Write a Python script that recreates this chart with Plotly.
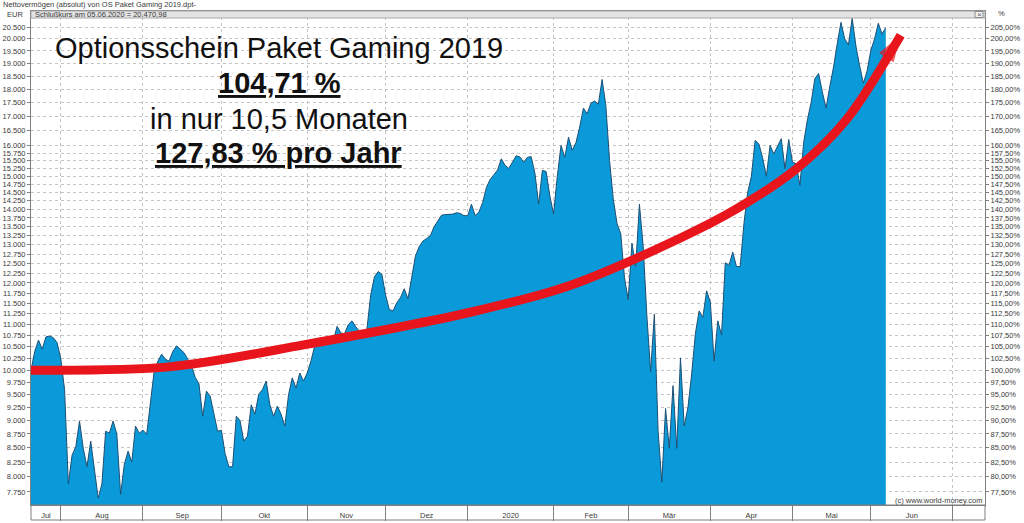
import numpy as np
import plotly.graph_objects as go

# ---------------- data ----------------
dates = [
    "2019-07-22", "2019-07-23", "2019-07-24", "2019-07-25", "2019-07-26", "2019-07-29", "2019-07-30", "2019-07-31",
    "2019-08-01", "2019-08-02", "2019-08-05", "2019-08-06", "2019-08-07", "2019-08-08", "2019-08-09", "2019-08-12",
    "2019-08-13", "2019-08-14", "2019-08-15", "2019-08-16", "2019-08-19", "2019-08-20", "2019-08-21", "2019-08-22",
    "2019-08-23", "2019-08-26", "2019-08-27", "2019-08-28", "2019-08-29", "2019-08-30",
    "2019-09-02", "2019-09-03", "2019-09-04", "2019-09-05", "2019-09-06", "2019-09-09", "2019-09-10", "2019-09-11",
    "2019-09-12", "2019-09-13", "2019-09-16", "2019-09-17", "2019-09-18", "2019-09-19", "2019-09-20", "2019-09-23",
    "2019-09-24", "2019-09-25", "2019-09-26", "2019-09-27", "2019-09-30",
    "2019-10-01", "2019-10-02", "2019-10-03", "2019-10-04", "2019-10-07", "2019-10-08", "2019-10-09", "2019-10-10",
    "2019-10-11", "2019-10-14", "2019-10-15", "2019-10-16", "2019-10-17", "2019-10-18", "2019-10-21", "2019-10-22",
    "2019-10-23", "2019-10-24", "2019-10-25", "2019-10-28", "2019-10-29", "2019-10-30", "2019-10-31",
    "2019-11-01", "2019-11-04", "2019-11-05", "2019-11-06", "2019-11-07", "2019-11-08", "2019-11-11", "2019-11-12",
    "2019-11-13", "2019-11-14", "2019-11-15", "2019-11-18", "2019-11-19", "2019-11-20", "2019-11-21", "2019-11-22",
    "2019-11-25", "2019-11-26", "2019-11-27", "2019-11-28", "2019-11-29",
    "2019-12-02", "2019-12-03", "2019-12-04", "2019-12-05", "2019-12-06", "2019-12-09", "2019-12-10", "2019-12-11",
    "2019-12-12", "2019-12-13", "2019-12-16", "2019-12-17", "2019-12-18", "2019-12-19", "2019-12-20", "2019-12-23",
    "2019-12-24", "2019-12-25", "2019-12-26", "2019-12-27", "2019-12-30", "2019-12-31",
    "2020-01-01", "2020-01-02", "2020-01-03", "2020-01-06", "2020-01-07", "2020-01-08", "2020-01-09", "2020-01-10",
    "2020-01-13", "2020-01-14", "2020-01-15", "2020-01-16", "2020-01-17", "2020-01-20", "2020-01-21", "2020-01-22",
    "2020-01-23", "2020-01-24", "2020-01-27", "2020-01-28", "2020-01-29", "2020-01-30", "2020-01-31",
    "2020-02-03", "2020-02-04", "2020-02-05", "2020-02-06", "2020-02-07", "2020-02-10", "2020-02-11", "2020-02-12",
    "2020-02-13", "2020-02-14", "2020-02-17", "2020-02-18", "2020-02-19", "2020-02-20", "2020-02-21", "2020-02-24",
    "2020-02-25", "2020-02-26", "2020-02-27", "2020-02-28",
    "2020-03-02", "2020-03-03", "2020-03-04", "2020-03-05", "2020-03-06", "2020-03-09", "2020-03-10", "2020-03-11",
    "2020-03-12", "2020-03-13", "2020-03-16", "2020-03-17", "2020-03-18", "2020-03-19", "2020-03-20", "2020-03-23",
    "2020-03-24", "2020-03-25", "2020-03-26", "2020-03-27", "2020-03-30", "2020-03-31",
    "2020-04-01", "2020-04-02", "2020-04-03", "2020-04-06", "2020-04-07", "2020-04-08", "2020-04-09", "2020-04-10",
    "2020-04-13", "2020-04-14", "2020-04-15", "2020-04-16", "2020-04-17", "2020-04-20", "2020-04-21", "2020-04-22",
    "2020-04-23", "2020-04-24", "2020-04-27", "2020-04-28", "2020-04-29", "2020-04-30",
    "2020-05-01", "2020-05-04", "2020-05-05", "2020-05-06", "2020-05-07", "2020-05-08", "2020-05-11", "2020-05-12",
    "2020-05-13", "2020-05-14", "2020-05-15", "2020-05-18", "2020-05-19", "2020-05-20", "2020-05-21", "2020-05-22",
    "2020-05-25", "2020-05-26", "2020-05-27", "2020-05-28", "2020-05-29",
    "2020-06-01", "2020-06-02", "2020-06-03", "2020-06-04", "2020-06-05",
]

nav_eur = [
    10000, 10400, 10650, 10450, 10720, 10740, 10700, 10590,
    10230, 9600, 7880, 8370, 8520, 8990, 8490, 8170,
    8620, 8090, 7650, 7880, 8800, 8765, 8990, 8745,
    7710, 8210, 8440, 8250, 8895, 8765,
    8820, 8745, 9300, 9982, 10190, 10340, 10230, 10190,
    10400, 10520, 10450, 10370, 10230, 10090, 9850, 9715,
    9080, 9570, 9470, 9100, 8800,
    8820, 8400, 8170, 8170, 9080, 9000, 8620, 8710,
    9300, 9120, 9510, 9600, 9775, 9300, 9080, 9275,
    9120, 8895, 9500, 9840, 9630, 9940, 9775,
    9940, 10190, 10520, 10570, 10570, 10570, 10570, 10640,
    10960, 10810, 10790, 11000, 11086, 10950, 10850, 10810,
    10900, 11700, 12150, 12290, 12220,
    11700, 11350, 11321, 11515, 11640, 11856, 11610, 12200,
    12700, 12950, 13100, 13170, 13250, 13500, 13650, 13830,
    13845, 13845, 13860, 13900, 13880, 13815,
    13815, 14150, 13815, 13920, 14200, 14650, 14900, 15050,
    15200, 15560, 15350, 15250, 15450, 15660, 15620, 15450,
    15610, 15630, 15100, 14150, 15190, 15150, 14400,
    13860, 15000, 16000, 15610, 16280, 15840, 16100, 16630,
    17300, 17100, 17480, 17560, 17440, 18370, 17400, 15500,
    14300, 13590, 13300, 12130,
    11590, 13040, 12420, 14150, 12970, 11200, 9970, 11240,
    8810, 7910, 9230, 8490, 9680, 8490, 10260, 8895,
    9250, 9920, 10800, 11320, 11170, 11806,
    11530, 10190, 11086, 10760, 12520, 12450, 12800, 12420,
    12420, 13590, 14500, 15000, 16170, 16050, 15600, 15000,
    16000, 15720, 16000, 16230, 15240, 16200,
    15450, 15400, 14720, 16100, 16880, 17500, 18400, 18600,
    17900, 17300, 18100, 18850, 19800, 20700, 20000, 19750,
    20880, 19700, 18900, 18230, 18700,
    19530, 20000, 20660, 20200, 20470.98,
]

# hand-drawn red trend arrow
arrow_dates = ["2019-07-22", "2019-09-11", "2019-10-31", "2020-01-02", "2020-02-07", "2020-03-20",
               "2020-04-10", "2020-05-04", "2020-05-21 14:00", "2020-06-11"]
arrow_values = [10000, 10068, 10541, 11293, 11925, 13184,
                14010, 15232, 16911, 20150]

y_tick_values = [7750, 8000, 8250, 8500, 8750, 9000, 9250, 9500, 9750, 10000, 10250, 10500, 10750,
                 11000, 11250, 11500, 11750, 12000, 12250, 12500, 12750, 13000, 13250, 13500, 13750,
                 14000, 14250, 14500, 14750, 15000, 15250, 15500, 15750, 16000, 16500, 17000, 17500,
                 18000, 18500, 19000, 19500, 20000, 20500]
y_tick_labels_eur = ["7.750", "8.000", "8.250", "8.500", "8.750", "9.000", "9.250", "9.500", "9.750",
                     "10.000", "10.250", "10.500", "10.750", "11.000", "11.250", "11.500", "11.750",
                     "12.000", "12.250", "12.500", "12.750", "13.000", "13.250", "13.500", "13.750",
                     "14.000", "14.250", "14.500", "14.750", "15.000", "15.250", "15.500", "15.750",
                     "16.000", "16.500", "17.000", "17.500", "18.000", "18.500", "19.000", "19.500",
                     "20.000", "20.500"]
y_tick_labels_pct = ["77,50%", "80,00%", "82,50%", "85,00%", "87,50%", "90,00%", "92,50%", "95,00%",
                     "97,50%", "100,00%", "102,50%", "105,00%", "107,50%", "110,00%", "112,50%",
                     "115,00%", "117,50%", "120,00%", "122,50%", "125,00%", "127,50%", "130,00%",
                     "132,50%", "135,00%", "137,50%", "140,00%", "142,50%", "145,00%", "147,50%",
                     "150,00%", "152,50%", "155,00%", "157,50%", "160,00%", "165,00%", "170,00%",
                     "175,00%", "180,00%", "185,00%", "190,00%", "195,00%", "200,00%", "205,00%"]

month_labels = ["Jul", "Aug", "Sep", "Okt", "Nov", "Dez", "2020", "Feb", "Mär", "Apr", "Mai", "Jun"]
month_label_dates = ["2019-07-26", "2019-08-16", "2019-09-16 12:00", "2019-10-16 12:00",
                     "2019-11-15 12:00", "2019-12-17", "2020-01-16 12:00", "2020-02-17",
                     "2020-03-17", "2020-04-16", "2020-05-15 12:00", "2020-06-16"]
month_start_dates = ["2019-08-01", "2019-09-02", "2019-10-01", "2019-11-01", "2019-12-02", "2020-01-01",
                     "2020-02-03", "2020-03-02", "2020-04-01", "2020-05-01", "2020-06-01", "2020-07-01"]

x_range = ["2019-07-22", "2020-07-13 14:00"]
y_range = [np.log10(7541.5), np.log10(21198)]

# ---------------- figure ----------------
FONT = "Liberation Sans, Arial, sans-serif"
BLUE = "#0a9ad9"
RED = "#e8161c"
GRID = "#c4c4c4"
AXIS = "#7f7f7f"

fig = go.Figure()
fig.add_trace(go.Scatter(
    x=dates, y=nav_eur, mode="lines", fill="tozeroy", fillcolor=BLUE,
    line=dict(color="#1d4f74", width=1), hoverinfo="skip", showlegend=False))

arrow_sizes = [0] * (len(arrow_dates) - 1) + [28]
fig.add_trace(go.Scatter(
    x=arrow_dates, y=arrow_values, mode="lines+markers",
    line=dict(color=RED, width=9, shape="spline", smoothing=0.9),
    marker=dict(symbol="arrow", size=arrow_sizes, angleref="previous", color=RED,
                line=dict(width=0)),
    hoverinfo="skip", showlegend=False))

# carrier for the right-hand percentage axis
fig.add_trace(go.Scatter(x=dates[:1], y=nav_eur[:1], yaxis="y2", mode="none",
                         hoverinfo="skip", showlegend=False))

tickfont = dict(family=FONT, size=7.5, color="#3a3a3a")

fig.update_layout(
    width=1024, height=523,
    margin=dict(l=31, r=39, t=11, b=18, autoexpand=False),
    paper_bgcolor="white", plot_bgcolor="white",
    showlegend=False,
    font=dict(family=FONT, color="#222"),
    xaxis=dict(
        type="date", range=x_range, automargin=False,
        rangebreaks=[dict(bounds=["sat", "mon"])],
        tickmode="array", tickvals=month_label_dates, ticktext=month_labels,
        ticks="", tickfont=tickfont, ticklabelstandoff=3,
        showgrid=False, zeroline=False,
        minor=dict(tickmode="array", tickvals=month_start_dates, ticks="outside", ticklen=15,
                   tickcolor=AXIS, tickwidth=1, showgrid=True, gridcolor=GRID,
                   griddash="dot", gridwidth=1),
        showline=True, linecolor=AXIS, linewidth=1, mirror=True,
    ),
    yaxis=dict(
        type="log", range=y_range, automargin=False,
        tickmode="array", tickvals=y_tick_values, ticktext=y_tick_labels_eur,
        ticks="outside", ticklen=3, tickcolor=AXIS, tickfont=tickfont,
        showgrid=True, gridcolor=GRID, griddash="dot", gridwidth=1,
        showline=True, linecolor=AXIS, linewidth=1, zeroline=False,
    ),
    yaxis2=dict(
        type="log", range=y_range, overlaying="y", side="right", automargin=False,
        tickmode="array", tickvals=y_tick_values, ticktext=y_tick_labels_pct,
        ticks="outside", ticklen=3, tickcolor=AXIS, tickfont=tickfont,
        showgrid=False, showline=True, linecolor=AXIS, linewidth=1, zeroline=False,
    ),
)

PH = 494.0  # plot height in px
PW = 954.0  # plot width in px


def py(p):
    return (505 - p) / PH


def px(p):
    return (p - 31) / PW


fig.add_shape(type="rect", xref="paper", yref="paper", x0=0, x1=1, y0=-15 / PH, y1=0,
              line=dict(color=AXIS, width=1), fillcolor="rgba(0,0,0,0)", layer="above")
fig.add_shape(type="rect", xref="paper", yref="paper", x0=0, x1=1, y0=py(18), y1=1,
              line=dict(color="#a8a8a8", width=1), fillcolor="#e3e3e3", layer="above")
fig.add_shape(type="rect", xref="paper", yref="paper", x0=px(975), x1=px(983), y0=py(17.5), y1=py(11.5),
              line=dict(color="#8a8a8a", width=1), fillcolor="#f4f4f4", layer="above")

small = dict(family=FONT, size=7.5, color="#3a3a3a")
anns = [
    dict(text="Nettovermögen (absolut) von OS Paket Gaming 2019.dpt-", x=px(1), y=py(4.5),
         xanchor="left", yanchor="middle", font=small),
    dict(text="EUR", x=px(15), y=py(14), xanchor="center", yanchor="middle", font=small),
    dict(text="%", x=px(1001), y=py(13.5), xanchor="center", yanchor="middle", font=small),
    dict(text="Schlußkurs am 05.06.2020 = 20.470,98", x=px(33), y=py(14.5),
         xanchor="left", yanchor="middle", font=small),
    dict(text="×", x=px(979), y=py(14.5), xanchor="center", yanchor="middle",
         font=dict(family=FONT, size=8, color="#555")),
    dict(text="(c) www.world-money.com", x=px(984), y=py(500.5), xanchor="right", yanchor="middle",
         font=dict(family=FONT, size=7.5, color="#3a3a3a")),
]
big = dict(family=FONT, size=29, color="#111111")
anns += [
    dict(text="Optionsschein Paket Gaming 2019", x=px(279), y=py(48), xanchor="center",
         yanchor="middle", font=big),
    dict(text="<b><u>104,71 %</u></b>", x=px(279), y=py(83), xanchor="center",
         yanchor="middle", font=big),
    dict(text="in nur 10,5 Monaten", x=px(279), y=py(119), xanchor="center",
         yanchor="middle", font=big),
    dict(text="<b><u>127,83 % pro Jahr</u></b>", x=px(278), y=py(152.5), xanchor="center",
         yanchor="middle", font=big),
]
for a in anns:
    fig.add_annotation(xref="paper", yref="paper", showarrow=False, **a)

fig.write_html("out.html")
